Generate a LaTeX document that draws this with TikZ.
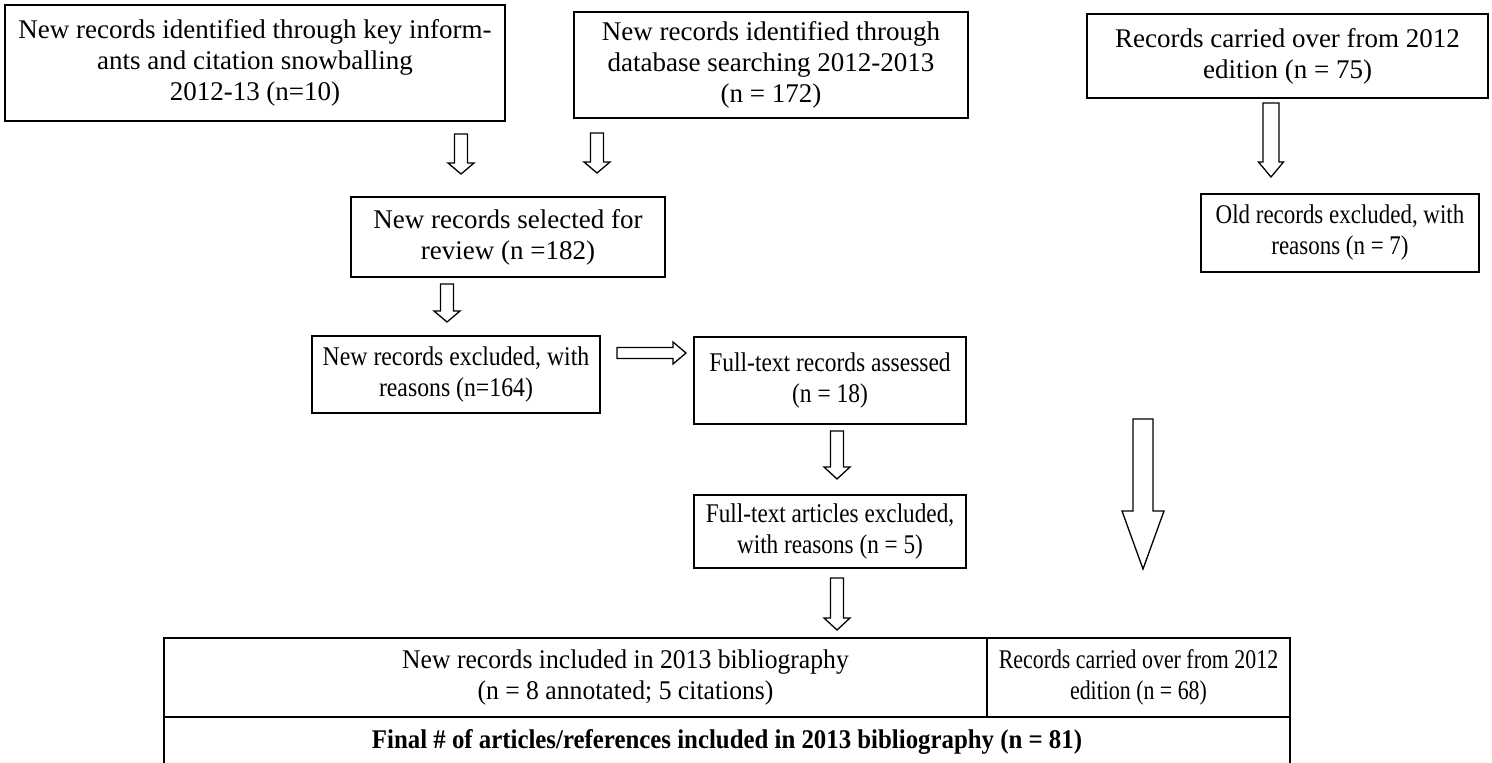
\documentclass[tikz,border=0pt]{standalone}
\usepackage{fontspec}
\setmainfont{Liberation Serif}
\usepackage{tikz}
\usetikzlibrary{calc}
\tikzset{
  recbox/.style={draw=black, line width=1.6pt, align=center, inner sep=0pt,
                 font=\fontsize{27}{31}\selectfont},
  squeeze/.style={font=\fontsize{27}{31}\selectfont\addfontfeature{FakeStretch=#1}},
  hollow/.style={draw=black, fill=white, line width=1.3pt, line join=miter}
}
\newcommand{\hollowarrow}[5]{
  \draw[hollow] let \p1=(#1), \p2=(#2), \n1={veclen(\x2-\x1,\y2-\y1)},
                    \n2={(\x2-\x1)/\n1}, \n3={(\y2-\y1)/\n1} in
    ({\x1-#3*\n3}, {\y1+#3*\n2})
    -- ({\x2-#5*\n2-#3*\n3}, {\y2-#5*\n3+#3*\n2})
    -- ({\x2-#5*\n2-#4*\n3}, {\y2-#5*\n3+#4*\n2})
    -- (\x2, \y2)
    -- ({\x2-#5*\n2+#4*\n3}, {\y2-#5*\n3-#4*\n2})
    -- ({\x2-#5*\n2+#3*\n3}, {\y2-#5*\n3-#3*\n2})
    -- ({\x1+#3*\n3}, {\y1-#3*\n2}) -- cycle;
}

\begin{document}
\begin{tikzpicture}[x=1pt, y=-1pt]
  % Size of the small arrows
  \pgfmathsetmacro{\Sw}{6.5}
  \pgfmathsetmacro{\Hw}{13}
  \pgfmathsetmacro{\Hl}{11}

  \useasboundingbox (0,0) rectangle (1492,763);

  % New records
  \node[recbox, minimum width=500pt, minimum height=116pt] (inform) at (255,63)
    {New records identified through key inform-\\ants and citation snowballing\\2012-13 (n=10)};
  \node[recbox, minimum width=394pt, minimum height=106pt] (dbase) at (771,65)
    {New records identified through\\database searching 2012-2013\\(n = 172)};
  \node[recbox, minimum width=314pt, minimum height=80pt] (select) at (508,237)
    {New records selected for\\review (n =182)};
  \node[recbox, squeeze=0.88, minimum width=288pt, minimum height=77pt] (newexcl) at (456,374.5)
    {New records excluded, with\\reasons (n=164)};
  \node[recbox, squeeze=0.87, minimum width=272pt, minimum height=87pt] (assess) at (830,380.5)
    {Full-text records assessed\\(n = 18)};
  \node[recbox, squeeze=0.86, minimum width=272pt, minimum height=73pt] (ftexcl) at (830,531.5)
    {Full-text articles excluded,\\with reasons (n = 5)};

  % Old records
  \node[recbox, minimum width=401pt, minimum height=84pt] (carried) at (1287.5,56)
    {Records carried over from 2012\\edition (n = 75)};
  \node[recbox, squeeze=0.85, minimum width=278pt, minimum height=78pt] (oldexcl) at (1340,233)
    {Old records excluded, with\\reasons (n = 7)};

  % Bibliography table
  \node[recbox, minimum width=823pt, minimum height=79pt] (newincl) at (575.5,677.5) {};
  \node[recbox, squeeze=0.95, draw=none] (newincl-text) at ([xshift=50pt]newincl.center)
    {New records included in 2013 bibliography\\(n = 8 annotated; 5 citations)};
  \node[recbox, squeeze=0.81, minimum width=303pt, minimum height=79pt] (oldincl) at (1138.5,677.5)
    {Records carried over from 2012\\edition (n = 68)};
  \node[recbox, minimum width=1126pt, minimum height=50pt,
        font=\fontsize{27}{31}\selectfont\bfseries\addfontfeature{FakeStretch=0.92}]
    (final) at (727,742)
    {Final \# of articles/references included in 2013 bibliography (n = 81)};

  % Arrow ends
  \coordinate (inform-a) at (461,134);   \coordinate (inform-b) at (461,174);
  \coordinate (dbase-a) at (597,133);    \coordinate (dbase-b) at (597,173);
  \coordinate (carried-a) at (1271,103); \coordinate (carried-b) at (1271,177);
  \coordinate (select-a) at (447,284);   \coordinate (select-b) at (447,322);
  \coordinate (newexcl-a) at (617,353);  \coordinate (newexcl-b) at (686,353);
  \coordinate (assess-a) at (837,431);   \coordinate (assess-b) at (837,479);
  \coordinate (ftexcl-a) at (837,578);   \coordinate (ftexcl-b) at (837,630);
  \coordinate (old-a) at (1143,419);     \coordinate (old-b) at (1143,569);

  \hollowarrow{inform-a}{inform-b}{\Sw}{\Hw}{\Hl}
  \hollowarrow{dbase-a}{dbase-b}{\Sw}{\Hw}{\Hl}
  \hollowarrow{carried-a}{carried-b}{8}{12.5}{15}
  \hollowarrow{select-a}{select-b}{\Sw}{\Hw}{\Hl}
  \hollowarrow{newexcl-a}{newexcl-b}{5.5}{11}{13}
  \hollowarrow{assess-a}{assess-b}{\Sw}{\Hw}{12}
  \hollowarrow{ftexcl-a}{ftexcl-b}{\Sw}{\Hw}{12}
  \hollowarrow{old-a}{old-b}{10}{21}{58}
\end{tikzpicture}
\end{document}
